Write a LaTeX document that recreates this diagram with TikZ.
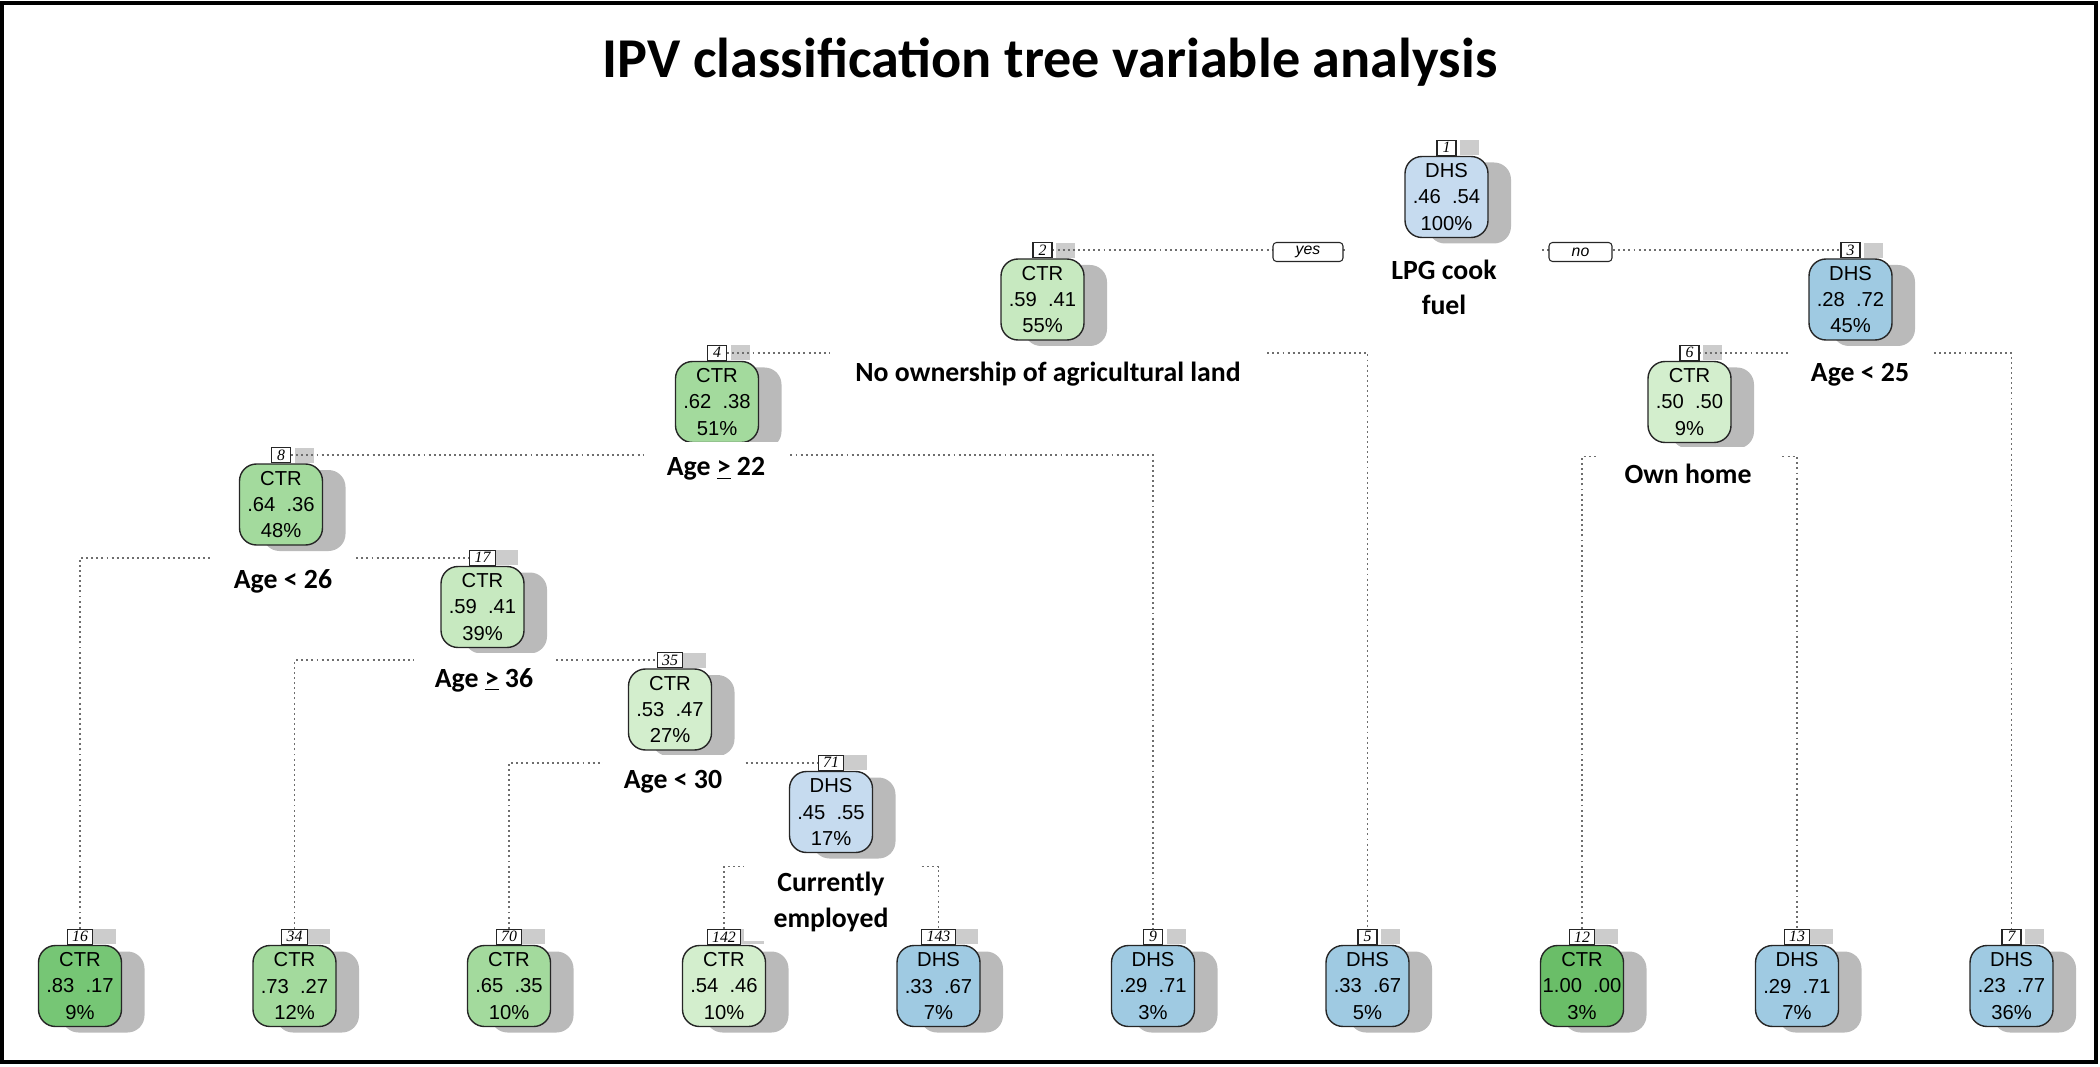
\documentclass[tikz,border=0pt]{standalone}
\usepackage{fontspec}
\usepackage{tikz}
\usetikzlibrary{positioning,shadows}
\newfontfamily\boxfont{Liberation Sans}
\newfontfamily\tagfont{Liberation Serif}
\newfontfamily\labfont{Carlito}
\definecolor{ctrpale}{HTML}{D3EECD}
\definecolor{ctrlight}{HTML}{C7E9C0}
\definecolor{ctrmid}{HTML}{A3DA9D}
\definecolor{ctrdeep}{HTML}{76C675}
\definecolor{ctrfull}{HTML}{6ABE68}
\definecolor{dhspale}{HTML}{C6DBEF}
\definecolor{dhsmid}{HTML}{9FCAE2}
\definecolor{branchgray}{HTML}{6E6E6E}

\begin{document}
\begin{tikzpicture}[
  tnode/.style={draw=black!85,line width=0.8pt,rounded corners=0.34cm,
    minimum width=1.66cm,minimum height=1.62cm,inner sep=0pt,align=center,
    font=\boxfont\fontsize{11.5}{15}\selectfont,
    drop shadow={shadow xshift=0.46cm,shadow yshift=-0.12cm,
      fill=black!27,draw=none,opacity=1}},
  tag/.style={draw=black!85,line width=0.6pt,fill=white,inner xsep=0.1cm,
    inner ysep=0pt,minimum width=0.38cm,minimum height=0.3cm,
    font=\tagfont\itshape\fontsize{9}{9}\selectfont,
    drop shadow={shadow xshift=0.46cm,shadow yshift=0cm,
      fill=black!20,draw=none,opacity=1}},
  split/.style={fill=white,inner sep=0pt,align=center,minimum height=1.1cm,
    font=\labfont\bfseries\fontsize{15.8}{20}\selectfont},
  yesno/.style={draw=black!85,line width=0.6pt,fill=white,rounded corners=2pt,
    minimum height=0.38cm,inner sep=0pt,
    font=\boxfont\itshape\fontsize{9}{10}\selectfont},
  branch/.style={draw=branchgray,line width=1.1pt,dash pattern=on 1.1pt off 1.8pt}
]
\useasboundingbox (0,0) rectangle (42,-21.34);
\draw[line width=1.8pt] (0.04,-0.06) rectangle (41.92,-21.24);
\node[anchor=base,font=\labfont\bfseries\fontsize{32}{35}\selectfont]
  (title) at (21.0,-1.56) {IPV classification tree variable analysis};

\node[tnode,fill=dhspale] (n1) at (28.93,-3.94) {DHS\\.46~~.54\\100\%};
\node[tag,above=0pt of n1] (t1) {1};
\node[tnode,fill=ctrlight] (n2) at (20.85,-5.99) {CTR\\.59~~.41\\55\%};
\node[tag,above=0pt of n2] (t2) {2};
\node[tnode,fill=dhsmid] (n3) at (37.01,-5.99) {DHS\\.28~~.72\\45\%};
\node[tag,above=0pt of n3] (t3) {3};
\node[tnode,fill=ctrmid] (n4) at (14.34,-8.04) {CTR\\.62~~.38\\51\%};
\node[tag,above=0pt of n4] (t4) {4};
\node[tnode,fill=ctrpale] (n6) at (33.79,-8.04) {CTR\\.50~~.50\\9\%};
\node[tag,above=0pt of n6] (t6) {6};
\node[tnode,fill=ctrmid] (n8) at (5.62,-10.09) {CTR\\.64~~.36\\48\%};
\node[tag,above=0pt of n8] (t8) {8};
\node[tnode,fill=ctrlight] (n17) at (9.65,-12.14) {CTR\\.59~~.41\\39\%};
\node[tag,above=0pt of n17] (t17) {17};
\node[tnode,fill=ctrpale] (n35) at (13.40,-14.19) {CTR\\.53~~.47\\27\%};
\node[tag,above=0pt of n35] (t35) {35};
\node[tnode,fill=dhspale] (n71) at (16.62,-16.24) {DHS\\.45~~.55\\17\%};
\node[tag,above=0pt of n71] (t71) {71};

\node[tnode,fill=ctrdeep] (n16) at (1.60,-19.72) {CTR\\.83~~.17\\9\%};
\node[tag,above=0pt of n16] (t16) {16};
\node[tnode,fill=ctrmid] (n34) at (5.89,-19.72) {CTR\\.73~~.27\\12\%};
\node[tag,above=0pt of n34] (t34) {34};
\node[tnode,fill=ctrmid] (n70) at (10.18,-19.72) {CTR\\.65~~.35\\10\%};
\node[tag,above=0pt of n70] (t70) {70};
\node[tnode,fill=ctrpale] (n142) at (14.48,-19.72) {CTR\\.54~~.46\\10\%};
\node[tag,above=0pt of n142] (t142) {142};
\node[tnode,fill=dhsmid] (n143) at (18.77,-19.72) {DHS\\.33~~.67\\7\%};
\node[tag,above=0pt of n143] (t143) {143};
\node[tnode,fill=dhsmid] (n9) at (23.06,-19.72) {DHS\\.29~~.71\\3\%};
\node[tag,above=0pt of n9] (t9) {9};
\node[tnode,fill=dhsmid] (n5) at (27.35,-19.72) {DHS\\.33~~.67\\5\%};
\node[tag,above=0pt of n5] (t5) {5};
\node[tnode,fill=ctrfull] (n12) at (31.64,-19.72) {CTR\\1.00~~.00\\3\%};
\node[tag,above=0pt of n12] (t12) {12};
\node[tnode,fill=dhsmid] (n13) at (35.94,-19.72) {DHS\\.29~~.71\\7\%};
\node[tag,above=0pt of n13] (t13) {13};
\node[tnode,fill=dhsmid] (n7) at (40.23,-19.72) {DHS\\.23~~.77\\36\%};
\node[tag,above=0pt of n7] (t7) {7};

\coordinate (k6) at (33.79,-9.13);
\coordinate (k71) at (16.62,-17.33);
\draw[branch] (t2.east) -- (t3.west);
\draw[branch] (t4.east) -| (t5.north);
\draw[branch] (t8.east) -| (t9.north);
\draw[branch] (t16.north) |- (t17.west);
\draw[branch] (t34.north) |- (t35.west);
\draw[branch] (t70.north) |- (t71.west);
\draw[branch] (t142.north) |- (k71) -| (t143.north);
\draw[branch] (t6.east) -| (t7.north);
\draw[branch] (t12.north) |- (k6) -| (t13.north);

\node[split,minimum width=3.9cm,minimum height=1.6cm] (s1) at (28.88,-5.74)
  {LPG cook\\fuel};
\node[yesno,minimum width=1.40cm] (yes) at (26.16,-5.04) {yes};
\node[yesno,minimum width=1.26cm] (no) at (31.61,-5.04) {no};
\node[split,minimum width=8.74cm] (s2) at (20.96,-7.48)
  {No ownership of agricultural land};
\node[split,minimum width=2.90cm] (s3) at (37.20,-7.50) {Age < 25};
\node[split,minimum width=2.88cm] (s4) at (14.32,-9.38) {Age \underline{>} 22};
\node[split,minimum width=3.66cm] (s6) at (33.76,-9.48) {Own home};
\node[split,minimum width=2.92cm] (s8) at (5.66,-11.62) {Age < 26};
\node[split,minimum width=2.82cm] (s17) at (9.68,-13.60) {Age \underline{>} 36};
\node[split,minimum width=2.82cm] (s35) at (13.46,-15.64) {Age < 30};
\node[split,minimum width=3.5cm,minimum height=1.56cm] (s71) at (16.62,-18.04)
  {Currently\\employed};
\end{tikzpicture}
\end{document}
